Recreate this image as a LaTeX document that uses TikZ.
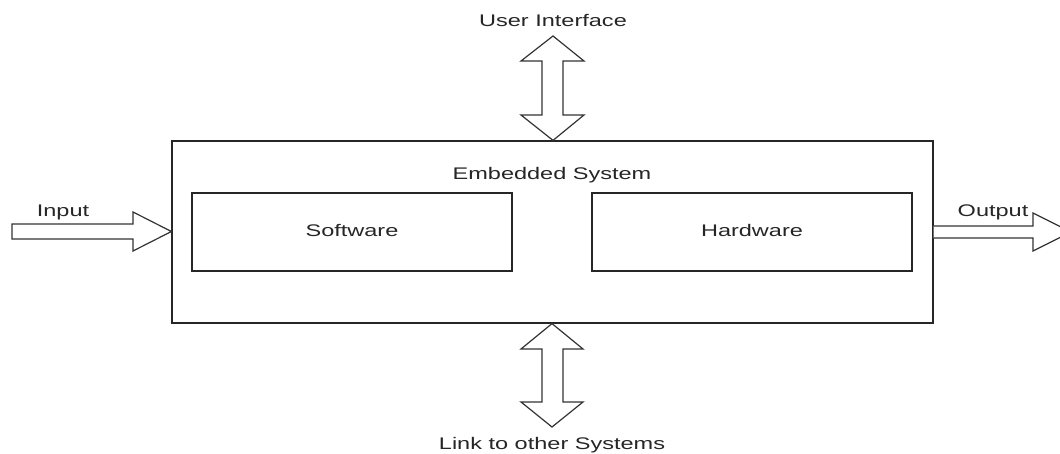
\documentclass[tikz,border=0pt]{standalone}
\usepackage{fontspec}
\setmainfont{Liberation Sans}
\usepackage{graphicx}
\newcommand{\wtxt}[1]{\scalebox{1.4}[1]{#1}}
\tikzset{
  box/.style={draw=black!85, line width=1.2pt, fill=white, inner sep=0pt},
  lbl/.style={anchor=base, inner sep=0pt, font=\fontsize{16.8}{20}\selectfont, text=black!85},
  barrow/.style={draw=black!80, line width=1.2pt, fill=white, line join=miter}
}
\begin{document}
\begin{tikzpicture}[x=1pt,y=-1pt]
\useasboundingbox (0,0) rectangle (1060,454);
\clip (0,0) rectangle (1060,454);
% outer box
\node[box, minimum width=761pt, minimum height=182pt] (sys) at (552.5,232) {};
\node[box, minimum width=320pt, minimum height=78pt] (sw) at (352,232) {};
\node[box, minimum width=320pt, minimum height=78pt] (hw) at (752,232) {};
% labels
\node[lbl] (tsys) at (552,180) {\wtxt{Embedded System}};
\node[lbl] (tsw) at (352,237) {\wtxt{Software}};
\node[lbl] (thw) at (752,237) {\wtxt{Hardware}};
\node[lbl] (tin) at (63,217) {\wtxt{Input}};
\node[lbl] (tout) at (993,217) {\wtxt{Output}};
\node[lbl] (tui) at (553,27) {\wtxt{User Interface}};
\node[lbl] (tlink) at (552,449) {\wtxt{Link to other Systems}};
% input arrow
\draw[barrow] (12,224) -- (133,224) -- (133,212) -- (sys.west |- 0,231.5) -- (133,251) -- (133,239) -- (12,239) -- cycle;
% output arrow
\draw[barrow] (sys.east |- 0,226) -- (1033,226) -- (1033,213) -- (1071,232) -- (1033,251) -- (1033,238) -- (sys.east |- 0,238);
% user interface arrow
\draw[barrow] (553,36) -- (584,61) -- (563,61) -- (563,115) -- (584,115) -- (sys.north -| 553,0) -- (521,115) -- (542,115) -- (542,61) -- (521,61) -- cycle;
% link arrow
\draw[barrow] (sys.south -| 552,0) -- (583,349) -- (563,349) -- (563,402) -- (583,402) -- (552,427) -- (521,402) -- (542,402) -- (542,349) -- (521,349) -- cycle;
\end{tikzpicture}
\end{document}
